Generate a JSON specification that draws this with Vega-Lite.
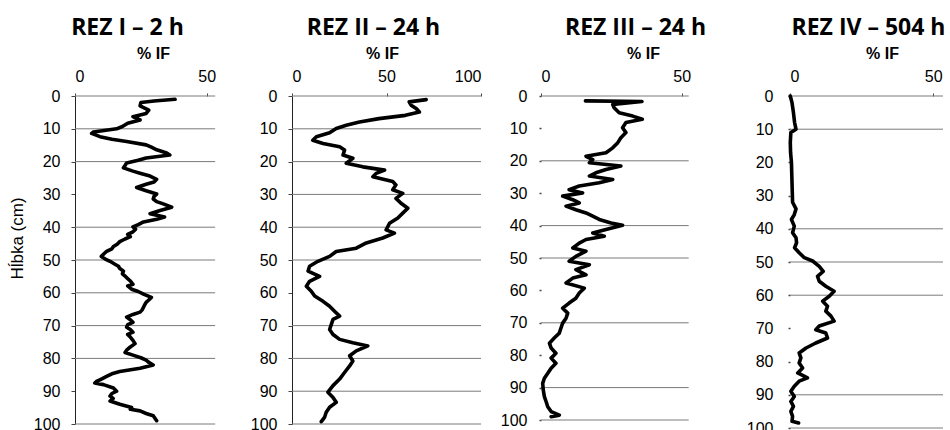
{
  "$schema": "https://vega.github.io/schema/vega-lite/v6.json",
  "background": "white",
  "padding": {"left": 8, "top": 17, "right": 0, "bottom": 0},
  "config": {
    "view": {"stroke": null},
    "axis": {
      "labelFont": "Liberation Sans",
      "labelFontSize": 16,
      "labelColor": "#000",
      "titleFont": "Liberation Sans",
      "titleFontSize": 16,
      "titleFontWeight": "bold",
      "titleColor": "#000",
      "domainColor": "#222",
      "tickColor": "#444",
      "grid": false
    },
    "title": {"font": "Open Sans", "fontSize": 23, "fontWeight": "bold", "color": "#000", "offset": 5},
    "line": {"color": "#000", "strokeWidth": 3.6, "strokeJoin": "round", "strokeCap": "round"},
    "rule": {"color": "#7a7a7a", "strokeWidth": 1}
  },
  "datasets": {
    "rez1": [
      {"d": 1, "v": 38}, {"d": 1.5, "v": 30}, {"d": 2, "v": 25}, {"d": 3, "v": 24.7}, {"d": 4.3, "v": 28}, {"d": 5.3, "v": 27},
      {"d": 6.3, "v": 22}, {"d": 7.3, "v": 24.7}, {"d": 8.3, "v": 20}, {"d": 9.3, "v": 18}, {"d": 10, "v": 15.8}, {"d": 11, "v": 7},
      {"d": 11.4, "v": 6.3}, {"d": 12.4, "v": 9.5}, {"d": 13.2, "v": 14}, {"d": 13.9, "v": 19.6}, {"d": 14.9, "v": 27}, {"d": 15.6, "v": 29},
      {"d": 16.4, "v": 31}, {"d": 17.4, "v": 34.8}, {"d": 18, "v": 36}, {"d": 18.9, "v": 27}, {"d": 19.6, "v": 24}, {"d": 20.4, "v": 19.6},
      {"d": 21.2, "v": 19}, {"d": 21.9, "v": 18.4}, {"d": 22.9, "v": 22}, {"d": 23.6, "v": 25}, {"d": 24.4, "v": 28.5}, {"d": 25.4, "v": 31},
      {"d": 26.2, "v": 30}, {"d": 26.9, "v": 27}, {"d": 27.9, "v": 23.4}, {"d": 28.9, "v": 27}, {"d": 29.9, "v": 31}, {"d": 30.6, "v": 30},
      {"d": 31.4, "v": 29.7}, {"d": 32.2, "v": 31}, {"d": 32.9, "v": 33.5}, {"d": 33.9, "v": 36.7}, {"d": 34.9, "v": 32.3}, {"d": 35.9, "v": 28.5},
      {"d": 36.9, "v": 34}, {"d": 37.6, "v": 31}, {"d": 38.4, "v": 26}, {"d": 39.2, "v": 24}, {"d": 39.9, "v": 22}, {"d": 40.6, "v": 23},
      {"d": 41.4, "v": 22}, {"d": 42.2, "v": 20}, {"d": 42.9, "v": 21}, {"d": 43.6, "v": 19}, {"d": 44.4, "v": 17}, {"d": 45.2, "v": 16},
      {"d": 45.9, "v": 14.6}, {"d": 46.6, "v": 14}, {"d": 47.4, "v": 12}, {"d": 48.1, "v": 11}, {"d": 48.9, "v": 10}, {"d": 49.7, "v": 11.5},
      {"d": 50.4, "v": 13.3}, {"d": 51.2, "v": 15}, {"d": 51.9, "v": 16.5}, {"d": 52.6, "v": 17}, {"d": 53.4, "v": 18.4}, {"d": 54.2, "v": 18},
      {"d": 54.9, "v": 19}, {"d": 55.7, "v": 20}, {"d": 56.4, "v": 21}, {"d": 57.4, "v": 22}, {"d": 57.9, "v": 20}, {"d": 58.9, "v": 21.5},
      {"d": 59.6, "v": 24}, {"d": 60.4, "v": 26}, {"d": 61.4, "v": 29}, {"d": 62.2, "v": 28}, {"d": 62.9, "v": 27}, {"d": 63.6, "v": 26.5},
      {"d": 64.4, "v": 26}, {"d": 65.2, "v": 25.5}, {"d": 65.9, "v": 24.7}, {"d": 66.6, "v": 22}, {"d": 67.4, "v": 19.6}, {"d": 68.2, "v": 21},
      {"d": 69, "v": 22}, {"d": 69.7, "v": 20}, {"d": 70.5, "v": 19.6}, {"d": 71.2, "v": 21}, {"d": 72, "v": 22}, {"d": 72.7, "v": 20},
      {"d": 73.5, "v": 21}, {"d": 74.5, "v": 22}, {"d": 75.5, "v": 22.8}, {"d": 76.5, "v": 21}, {"d": 77.5, "v": 19.6}, {"d": 78.2, "v": 19},
      {"d": 79, "v": 22}, {"d": 79.8, "v": 25}, {"d": 80.5, "v": 27}, {"d": 81.2, "v": 28}, {"d": 82, "v": 29.7}, {"d": 83, "v": 24.7},
      {"d": 84, "v": 17}, {"d": 84.7, "v": 14}, {"d": 85.5, "v": 12}, {"d": 86.3, "v": 10}, {"d": 87, "v": 8.2}, {"d": 87.5, "v": 7.5},
      {"d": 88, "v": 10.8}, {"d": 89, "v": 14.6}, {"d": 90, "v": 15.8}, {"d": 90.7, "v": 14}, {"d": 91.5, "v": 13.3}, {"d": 92.2, "v": 14.5},
      {"d": 93, "v": 13.3}, {"d": 94, "v": 17}, {"d": 95, "v": 21.5}, {"d": 95.5, "v": 21}, {"d": 96, "v": 24.7}, {"d": 96.8, "v": 27},
      {"d": 97.5, "v": 29.7}, {"d": 99, "v": 31}
    ],
    "rez2": [
      {"d": 1.1, "v": 71}, {"d": 1.8, "v": 62}, {"d": 2.8, "v": 63}, {"d": 3.8, "v": 65.7}, {"d": 4.9, "v": 67.4}, {"d": 5.9, "v": 60},
      {"d": 6.9, "v": 46}, {"d": 7.9, "v": 35.7}, {"d": 8.9, "v": 28.7}, {"d": 9.9, "v": 23.4}, {"d": 11.2, "v": 19.9}, {"d": 12.4, "v": 12.9},
      {"d": 13.5, "v": 11}, {"d": 14.5, "v": 16.4}, {"d": 15.5, "v": 25.2}, {"d": 16.5, "v": 27.8}, {"d": 18, "v": 27}, {"d": 19, "v": 32.2},
      {"d": 20.5, "v": 28.7}, {"d": 21.6, "v": 37.5}, {"d": 22.6, "v": 49}, {"d": 23.6, "v": 44.5}, {"d": 24.6, "v": 42.8}, {"d": 26.1, "v": 53.3},
      {"d": 27.1, "v": 55}, {"d": 28.6, "v": 53.3}, {"d": 29.7, "v": 58.6}, {"d": 31.2, "v": 55}, {"d": 32.7, "v": 57.7}, {"d": 34.2, "v": 61.3},
      {"d": 35.7, "v": 58.6}, {"d": 37.2, "v": 56}, {"d": 38.8, "v": 51.6}, {"d": 40.8, "v": 49.8}, {"d": 41.8, "v": 54.2}, {"d": 43.3, "v": 48},
      {"d": 44.8, "v": 39.3}, {"d": 46.4, "v": 34}, {"d": 47.4, "v": 23.4}, {"d": 48.9, "v": 19.9}, {"d": 50.4, "v": 13.7}, {"d": 51.9, "v": 9.3},
      {"d": 53.4, "v": 8.5}, {"d": 55, "v": 14.6}, {"d": 56.5, "v": 9.3}, {"d": 58, "v": 7.6}, {"d": 59.5, "v": 10.2}, {"d": 61, "v": 12},
      {"d": 62.6, "v": 16.4}, {"d": 64.1, "v": 19.9}, {"d": 65.6, "v": 22.5}, {"d": 67.1, "v": 25.2}, {"d": 68.1, "v": 21.7}, {"d": 69.6, "v": 20.8},
      {"d": 71.2, "v": 19.9}, {"d": 72.7, "v": 21.7}, {"d": 74.2, "v": 25.2}, {"d": 75.2, "v": 32.2}, {"d": 76.2, "v": 40.1}, {"d": 77.7, "v": 34},
      {"d": 79.2, "v": 30.5}, {"d": 80.8, "v": 32.2}, {"d": 82.3, "v": 30.5}, {"d": 84.3, "v": 27.8}, {"d": 86.3, "v": 25.2}, {"d": 88.3, "v": 21.7},
      {"d": 90.3, "v": 19}, {"d": 91.9, "v": 21.7}, {"d": 93.4, "v": 23.4}, {"d": 94.9, "v": 19.9}, {"d": 96.4, "v": 18.1}, {"d": 98, "v": 17.2},
      {"d": 99.3, "v": 15.5}
    ],
    "rez3": [
      {"d": 1.5, "v": 15.8}, {"d": 1.7, "v": 35.9}, {"d": 2.6, "v": 25.5}, {"d": 3.6, "v": 26}, {"d": 5.2, "v": 27.8}, {"d": 6.2, "v": 32.6},
      {"d": 7.2, "v": 36}, {"d": 8.2, "v": 30.2}, {"d": 9.8, "v": 29}, {"d": 11.3, "v": 30.2}, {"d": 12.9, "v": 28.4}, {"d": 14.4, "v": 27.3},
      {"d": 16, "v": 25.5}, {"d": 17.5, "v": 23.1}, {"d": 18.6, "v": 16}, {"d": 19.6, "v": 18.4}, {"d": 20.6, "v": 17.2}, {"d": 21.6, "v": 28.4},
      {"d": 22.7, "v": 23.1}, {"d": 23.7, "v": 19.5}, {"d": 24.7, "v": 17.2}, {"d": 25.8, "v": 25.5}, {"d": 26.8, "v": 20.7}, {"d": 27.8, "v": 13.6},
      {"d": 28.9, "v": 10}, {"d": 29.9, "v": 14.8}, {"d": 30.9, "v": 7.7}, {"d": 32, "v": 11.3}, {"d": 33, "v": 13.6}, {"d": 34, "v": 8.9},
      {"d": 35.1, "v": 12.4}, {"d": 36.1, "v": 16}, {"d": 37.1, "v": 18.4}, {"d": 38.1, "v": 20.7}, {"d": 39.2, "v": 24.9}, {"d": 39.9, "v": 29},
      {"d": 41.2, "v": 23.1}, {"d": 42.3, "v": 18.4}, {"d": 43.3, "v": 22.5}, {"d": 44.3, "v": 16}, {"d": 45.4, "v": 13.6}, {"d": 46.9, "v": 11.3},
      {"d": 47.9, "v": 16}, {"d": 49.5, "v": 12.4}, {"d": 51, "v": 10}, {"d": 52.1, "v": 17.2}, {"d": 53.6, "v": 12.4}, {"d": 55.2, "v": 16},
      {"d": 56.2, "v": 11.3}, {"d": 57.7, "v": 8.9}, {"d": 59.3, "v": 15.4}, {"d": 60.8, "v": 13.6}, {"d": 62.4, "v": 12.4}, {"d": 63.9, "v": 10},
      {"d": 65.5, "v": 7.7}, {"d": 67, "v": 9.5}, {"d": 68.6, "v": 8.9}, {"d": 70.1, "v": 7.7}, {"d": 71.6, "v": 7.1}, {"d": 73.2, "v": 6.5},
      {"d": 74.7, "v": 4.7}, {"d": 76.3, "v": 3}, {"d": 77.8, "v": 3.6}, {"d": 79.4, "v": 5.3}, {"d": 80.9, "v": 3.6}, {"d": 82.5, "v": 5.3},
      {"d": 84, "v": 3.6}, {"d": 85.6, "v": 2.4}, {"d": 87.1, "v": 1.2}, {"d": 88.7, "v": 0.6}, {"d": 90.7, "v": 0.8}, {"d": 92.8, "v": 1.2},
      {"d": 94.3, "v": 1.8}, {"d": 95.9, "v": 2.4}, {"d": 97.4, "v": 3.6}, {"d": 98.5, "v": 6.5}, {"d": 99, "v": 3.6}
    ],
    "rez4": [
      {"d": 0, "v": 0.1}, {"d": 2, "v": 0.7}, {"d": 5, "v": 1.2}, {"d": 8, "v": 1.6}, {"d": 10, "v": 2.1}, {"d": 11, "v": 0.3},
      {"d": 14, "v": 0.1}, {"d": 17, "v": 0.2}, {"d": 20, "v": 0.5}, {"d": 23, "v": 0.6}, {"d": 26, "v": 0.7}, {"d": 29, "v": 0.8},
      {"d": 32, "v": 0.9}, {"d": 34, "v": 2.1}, {"d": 35.7, "v": 1.5}, {"d": 37.2, "v": 0.5}, {"d": 39.2, "v": 1.5}, {"d": 41.2, "v": 0.9},
      {"d": 42.7, "v": 2.1}, {"d": 44.2, "v": 2.3}, {"d": 45.7, "v": 1.6}, {"d": 47.2, "v": 3.2}, {"d": 48.7, "v": 5}, {"d": 49.7, "v": 7.9},
      {"d": 51.3, "v": 10.2}, {"d": 52.8, "v": 11.6}, {"d": 54.3, "v": 9.6}, {"d": 55.8, "v": 10.2}, {"d": 57.3, "v": 12.5}, {"d": 58.8, "v": 15.4},
      {"d": 60.3, "v": 13.7}, {"d": 61.8, "v": 11.4}, {"d": 63.3, "v": 13.1}, {"d": 64.8, "v": 12.5}, {"d": 66.3, "v": 14.3}, {"d": 67.8, "v": 15.4},
      {"d": 69.3, "v": 10.2}, {"d": 70.4, "v": 9}, {"d": 71.4, "v": 12.5}, {"d": 72.9, "v": 13.1}, {"d": 74.4, "v": 9}, {"d": 75.9, "v": 5.6},
      {"d": 77.4, "v": 3.2}, {"d": 78.9, "v": 3.8}, {"d": 80.4, "v": 3.2}, {"d": 81.9, "v": 4.4}, {"d": 83.4, "v": 2.7}, {"d": 84.9, "v": 6.1},
      {"d": 85.9, "v": 3.2}, {"d": 87.4, "v": 1.5}, {"d": 88.9, "v": 0.3}, {"d": 90.5, "v": 1.5}, {"d": 92, "v": 0.3}, {"d": 93.5, "v": 1.2},
      {"d": 95, "v": 0.3}, {"d": 96.5, "v": 0.9}, {"d": 98, "v": 0.7}, {"d": 98.5, "v": 3}
    ],
    "grid1": [{"d": 0}, {"d": 10}, {"d": 20}, {"d": 40}, {"d": 50}, {"d": 60}, {"d": 70}, {"d": 80}, {"d": 100}],
    "grid2": [{"d": 0}, {"d": 10}, {"d": 20}, {"d": 30}, {"d": 40}, {"d": 50}, {"d": 70}, {"d": 80}, {"d": 90}, {"d": 100}],
    "grid3": [{"d": 0}, {"d": 20}, {"d": 40}, {"d": 50}, {"d": 70}, {"d": 90}, {"d": 100}],
    "grid4": [{"d": 0}, {"d": 10}, {"d": 40}, {"d": 50}, {"d": 60}, {"d": 90}, {"d": 100}]
  },
  "bounds": "flush",
  "spacing": 60,
  "hconcat": [
    {
      "width": 157,
      "height": 328,
      "title": {"text": "REZ I – 2 h", "dx": -26},
      "encoding": {
        "y": {"field": "d", "type": "quantitative", "scale": {"domain": [0, 100], "reverse": true, "nice": false},
          "axis": {"values": [0, 10, 20, 30, 40, 50, 60, 70, 80, 90, 100], "tickSize": 4, "labelPadding": 11,
            "title": "Hĺbka (cm)", "titleFontWeight": "normal", "titleFontSize": 17, "titleX": -58, "titleY": 142, "titleBaseline": "middle", "titleAlign": "center"}}
      },
      "layer": [
        {
          "data": {"name": "grid1"},
          "mark": "rule",
          "encoding": {
            "x": {"datum": 0, "type": "quantitative", "scale": {"domain": [0, 59.6], "nice": false},
              "axis": {"orient": "top", "values": [0, 50], "domain": false, "title": "% IF", "tickSize": 3, "labelPadding": 9, "titleX": 78, "titleY": -43, "titleBaseline": "middle"}},
            "x2": {"datum": 53.2}
          }
        },
        {
          "data": {"name": "rez1"},
          "mark": "line",
          "encoding": {
            "x": {"field": "v", "type": "quantitative", "scale": {"domain": [0, 59.6], "nice": false},
              "axis": {"orient": "top", "values": [0, 50], "domain": false, "title": "% IF", "tickSize": 3, "labelPadding": 9, "titleX": 78, "titleY": -43, "titleBaseline": "middle"}},
            "order": {"field": "d", "type": "quantitative"}
          }
        }
      ]
    },
    {
      "width": 189,
      "height": 328,
      "title": {"text": "REZ II – 24 h", "dx": -13},
      "encoding": {
        "y": {"field": "d", "type": "quantitative", "scale": {"domain": [0, 100], "reverse": true, "nice": false},
          "axis": {"values": [0, 10, 20, 30, 40, 50, 60, 70, 80, 90, 100], "tickSize": 4, "labelPadding": 11, "title": null}}
      },
      "layer": [
        {
          "data": {"name": "grid2"},
          "mark": "rule",
          "encoding": {
            "x": {"datum": 0, "type": "quantitative", "scale": {"domain": [0, 100], "nice": false},
              "axis": {"orient": "top", "values": [0, 50, 100], "domain": false, "title": "% IF", "tickSize": 3, "labelPadding": 9, "titleX": 90, "titleY": -43, "titleBaseline": "middle"}},
            "x2": {"datum": 100}
          }
        },
        {
          "data": {"name": "rez2"},
          "mark": "line",
          "encoding": {
            "x": {"field": "v", "type": "quantitative", "scale": {"domain": [0, 100], "nice": false},
              "axis": {"orient": "top", "values": [0, 50, 100], "domain": false, "title": "% IF", "tickSize": 3, "labelPadding": 9, "titleX": 90, "titleY": -43, "titleBaseline": "middle"}},
            "order": {"field": "d", "type": "quantitative"}
          }
        }
      ]
    },
    {
      "width": 189,
      "height": 324,
      "title": {"text": "REZ III – 24 h", "dx": 0},
      "encoding": {
        "y": {"field": "d", "type": "quantitative", "scale": {"domain": [0, 100], "reverse": true, "nice": false},
          "axis": {"values": [0, 10, 20, 30, 40, 50, 60, 70, 80, 90, 100], "domain": false, "tickSize": 2, "tickWidth": 1.5, "labelPadding": 12, "title": null}}
      },
      "layer": [
        {
          "data": {"name": "grid3"},
          "mark": "rule",
          "encoding": {
            "x": {"datum": 0, "type": "quantitative", "scale": {"domain": [0, 67.2], "nice": false},
              "axis": {"orient": "top", "values": [0, 50], "domain": false, "title": "% IF", "tickSize": 3, "labelPadding": 9, "titleX": 102, "titleY": -43, "titleBaseline": "middle"}},
            "x2": {"datum": 52.5}
          }
        },
        {
          "data": {"name": "rez3"},
          "mark": "line",
          "encoding": {
            "x": {"field": "v", "type": "quantitative", "scale": {"domain": [0, 67.2], "nice": false},
              "axis": {"orient": "top", "values": [0, 50], "domain": false, "title": "% IF", "tickSize": 3, "labelPadding": 9, "titleX": 102, "titleY": -43, "titleBaseline": "middle"}},
            "order": {"field": "d", "type": "quantitative"}
          }
        }
      ]
    },
    {
      "width": 153,
      "height": 332,
      "title": {"text": "REZ IV – 504 h", "dx": 2},
      "encoding": {
        "y": {"field": "d", "type": "quantitative", "scale": {"domain": [0, 100], "reverse": true, "nice": false},
          "axis": {"values": [0, 10, 20, 30, 40, 50, 60, 70, 80, 90, 100], "domain": false, "tickSize": 2, "tickWidth": 1.5, "labelPadding": 15, "title": null}}
      },
      "layer": [
        {
          "data": {"name": "grid4"},
          "mark": "rule",
          "encoding": {
            "x": {"datum": 0, "type": "quantitative", "scale": {"domain": [0, 53.4], "nice": false},
              "axis": {"orient": "top", "values": [0, 50], "domain": false, "title": "% IF", "tickSize": 3, "labelPadding": 9, "titleX": 92, "titleY": -43, "titleBaseline": "middle"}},
            "x2": {"datum": 53.4}
          }
        },
        {
          "data": {"name": "rez4"},
          "mark": "line",
          "encoding": {
            "x": {"field": "v", "type": "quantitative", "scale": {"domain": [0, 53.4], "nice": false},
              "axis": {"orient": "top", "values": [0, 50], "domain": false, "title": "% IF", "tickSize": 3, "labelPadding": 9, "titleX": 92, "titleY": -43, "titleBaseline": "middle"}},
            "order": {"field": "d", "type": "quantitative"}
          }
        }
      ]
    }
  ]
}
